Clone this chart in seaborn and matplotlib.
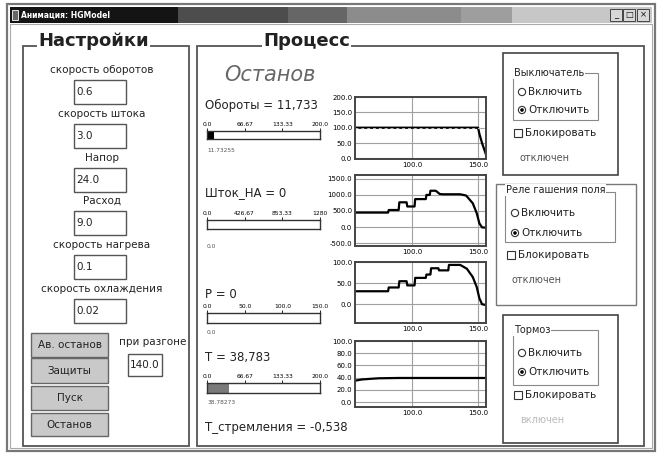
import numpy as np
import matplotlib.pyplot as plt
import matplotlib.patches as mpatches
import seaborn as sns

W, H = 660, 453

# ---- trend data (time, value) ----
rpm_t = [57, 150, 151, 153, 155, 156]
rpm_v = [100, 100, 80, 50, 25, 12]
rpm_set_v = [100, 100]
rpm_set_t = [57, 156]

rod_t = [57, 82, 82.5, 90, 90.5, 96, 96.5, 102, 102.5, 110.5, 111, 113.5, 114,
         118, 121, 123, 136.5, 141, 146, 149, 151, 153, 156]
rod_v = [450, 450, 530, 530, 770, 770, 640, 640, 870, 870, 1000, 1000, 1130,
         1130, 1030, 1020, 1020, 980, 740, 430, 115, -10, -20]

p_t = [57, 82, 82.5, 90, 90.5, 96, 96.5, 102, 102.5, 110.5, 111, 114, 114.5,
       120, 120.5, 127.5, 128, 136.5, 141.5, 146, 149, 151, 153, 156]
p_v = [31, 31, 40, 40, 55, 55, 45, 45, 63, 63, 71, 71, 86, 86, 81, 81, 94, 94,
       85, 65, 41, 14, 0, -2]

temp_t = [57, 62, 68, 75, 90, 156]
temp_v = [35, 37, 38, 39, 39.5, 39.5]

# ---- indicator bars ----
bar_values = [11.73255, 0.0, 0.0, 38.78273]
bar_max = [200.0, 1280.0, 150.0, 200.0]
bar_labels = [["0.0", "66.67", "133.33", "200.0"],
              ["0.0", "426.67", "853.33", "1280"],
              ["0.0", "50.0", "100.0", "150.0"],
              ["0.0", "66.67", "133.33", "200.0"]]
bar_texts = ["11.73255", "0.0", "0.0", "38.78273"]
readouts = ["Обороты = 11,733", "Шток_НА = 0", "P = 0", "T = 38,783"]

# ---- settings panel ----
settings = ["скорость оборотов", "скорость штока", "Напор", "Расход",
            "скорость нагрева", "скорость охлаждения"]
setting_vals = ["0.6", "3.0", "24.0", "9.0", "0.1", "0.02"]
buttons = ["Ав. останов", "Защиты", "Пуск", "Останов"]

plt.rcParams['font.family'] = ['DejaVu Sans']
fig = plt.figure(figsize=(6.6, 4.53), dpi=100)
bg = fig.add_axes([0, 0, 1, 1])


def px_rect(x0, y0, x1, y1):
    return [x0 / W, 1 - y1 / H, (x1 - x0) / W, (y1 - y0) / H]


def box(x0, y0, x1, y1, ec='#555', fc='none', lw=1.0, z=1):
    bg.add_patch(mpatches.Rectangle((x0, y0), x1 - x0, y1 - y0, ec=ec, fc=fc,
                                    lw=lw, zorder=z))


def txt(x, y, s, size=8, ha='left', color='#222', **kw):
    bg.text(x, y, s, fontsize=size, ha=ha, va='center', color=color, zorder=5, **kw)


def label(x, y, s, size=7):
    bg.text(x, y, s, fontsize=size, ha='left', va='center', color='#222', zorder=5,
            bbox=dict(fc='white', ec='none', pad=0.6))


# window frame
box(7, 4, 655, 451, ec='#777', lw=1.6)
box(10, 24, 652, 448, ec='#aaa', lw=0.8)
bands = [(10, 178, 0.08), (178, 288, 0.3), (288, 347, 0.4), (347, 461, 0.55),
         (461, 512, 0.62), (512, 652, 0.78)]
for x0, x1, g in bands:
    box(x0, 7, x1, 23, ec='none', fc=str(g), lw=0, z=2)
box(12, 10, 18, 20, ec='white', fc='#666', lw=0.6, z=3)
txt(21, 15, "Анимация: HGModel", size=5.5, color='white', weight='bold')
for (x0, x1), g in zip([(610, 622), (623, 635), (637, 649)], ["_", "□", "×"]):
    box(x0, 9, x1, 21, ec='#444', fc='#d8d8d8', lw=0.7, z=3)
    txt((x0 + x1) / 2, 15, g, size=6, ha='center', color='#111')

# settings group
box(23, 46, 189, 446, ec='#555', lw=1.3)
label(38, 41, "Настройки", size=13)
bg.texts[-1].set_weight('bold')
lab_y = [70, 114, 158, 201, 245, 289]
for s, v, y in zip(settings, setting_vals, lab_y):
    txt(102, y, s, size=7.5, ha='center')
    box(74, y + 10, 126, y + 34, ec='#555', fc='white', lw=1.0)
    txt(76, y + 22, v, size=7.5)
btn_y = [(333, 357), (358, 383), (386, 410), (413, 436)]
for s, (y0, y1) in zip(buttons, btn_y):
    box(31, y0, 108, y1, ec='#666', fc='#c9c9c9', lw=1.0)
    txt(69.5, (y0 + y1) / 2, s, size=7.5, ha='center')
txt(153, 342, "при разгоне", size=7.5, ha='center')
box(128, 354, 162, 376, ec='#555', fc='white', lw=1.0)
txt(130, 365, "140.0", size=7.5)

# process group
box(197, 46, 644, 446, ec='#555', lw=1.3)
label(263, 41, "Процесс", size=13)
bg.texts[-1].set_weight('bold')
txt(224, 75, "Останов", size=15, color='#666', style='italic')
read_y = [105, 193, 295, 358]
bar_y = [(131, 139), (220, 229), (313, 323), (383, 393)]
val_y = [151, 246, 332, 402]
bar_col = ['black', 'white', 'white', '#7a7a7a']
for i in range(4):
    txt(205, read_y[i], readouts[i], size=8.5)
    txt(207, val_y[i], bar_texts[i], size=4.2, color='#555')
    axb = fig.add_axes(px_rect(207, bar_y[i][0], 320, bar_y[i][1]))
    axb.barh([0], [bar_values[i]], height=1.0, color=bar_col[i])
    axb.set_xlim(0, bar_max[i])
    axb.set_ylim(-0.5, 0.5)
    axb.set_yticks([])
    axb.xaxis.tick_top()
    axb.set_xticks(np.linspace(0, bar_max[i], 4), bar_labels[i])
    axb.tick_params(axis='x', length=2, width=0.6, labelsize=4.3, pad=1)
    for sp in axb.spines.values():
        sp.set_color('#333')
        sp.set_linewidth(1.0)
txt(205, 428, "T_стремления = -0,538", size=8.5)


def chart(rect, t, v, ylim, yticks):
    ax = fig.add_axes(px_rect(*rect))
    ax.set_axisbelow(True)
    sns.lineplot(x=t, y=v, ax=ax, color='black', lw=1.6, sort=False, estimator=None)
    ax.set_xlim(57, 156)
    ax.set_ylim(*ylim)
    ax.set_yticks(yticks, [f"{y:.1f}" for y in yticks])
    ax.set_xticks([100, 150], ["100.0", "150.0"])
    ax.grid(True, color='#a0a0a0', lw=0.8)
    ax.tick_params(labelsize=5, length=0, pad=2)
    ax.set_xlabel('')
    ax.set_ylabel('')
    for sp in ax.spines.values():
        sp.set_color('#444')
        sp.set_linewidth(1.4)
    return ax


ax1 = chart((355, 97, 486, 159), rpm_t, rpm_v, (-2, 200), [0, 50, 100, 150, 200])
sns.lineplot(x=rpm_set_t, y=rpm_set_v, ax=ax1, color='#bbbbbb', lw=0.7,
             linestyle=(0, (3, 3)), estimator=None)
chart((355, 175, 486, 246), rod_t, rod_v, (-590, 1620), [-500, 0, 500, 1000, 1500])
chart((355, 262, 486, 323), p_t, p_v, (-45, 101), [0, 50, 100])
chart((355, 341, 486, 407), temp_t, temp_v, (-8, 100), [0, 20, 40, 60, 80, 100])


def radio(x, y, s, on):
    bg.add_patch(mpatches.Circle((x, y), 3.6, ec='#333', fc='white', lw=0.8, zorder=4))
    if on:
        bg.add_patch(mpatches.Circle((x, y), 1.8, ec='none', fc='black', zorder=5))
    txt(x + 6, y, s, size=7.5)


def check(x, y, s):
    box(x, y - 4, x + 8, y + 4, ec='#333', fc='white', lw=0.8, z=4)
    txt(x + 11, y, s, size=7.5)


# switch
box(503, 53, 618, 175, ec='#444', lw=1.2)
box(513, 73, 598, 120, ec='#888', lw=0.8)
label(514, 73, "Выключатель")
radio(522, 92, "Включить", False)
radio(522, 110, "Отключить", True)
check(514, 133, "Блокировать")
txt(520, 158, "отключен", size=7, color='#555')

# field relay
box(496, 184, 636, 305, ec='#777', lw=1.0)
box(505, 192, 615, 242, ec='#888', lw=0.8)
label(506, 190, "Реле гашения поля")
radio(515, 213, "Включить", False)
radio(515, 233, "Отключить", True)
check(507, 255, "Блокировать")
txt(511, 280, "отключен", size=7, color='#555')

# brake
box(503, 315, 618, 443, ec='#444', lw=1.2)
box(513, 330, 598, 385, ec='#888', lw=0.8)
label(514, 330, "Тормоз")
radio(522, 353, "Включить", False)
radio(522, 372, "Отключить", True)
check(514, 395, "Блокировать")
txt(520, 420, "включен", size=7, color='#bbb')

bg.set_xlim(0, W)
bg.set_ylim(H, 0)
bg.axis('off')

fig.savefig("out.png", dpi=100)
